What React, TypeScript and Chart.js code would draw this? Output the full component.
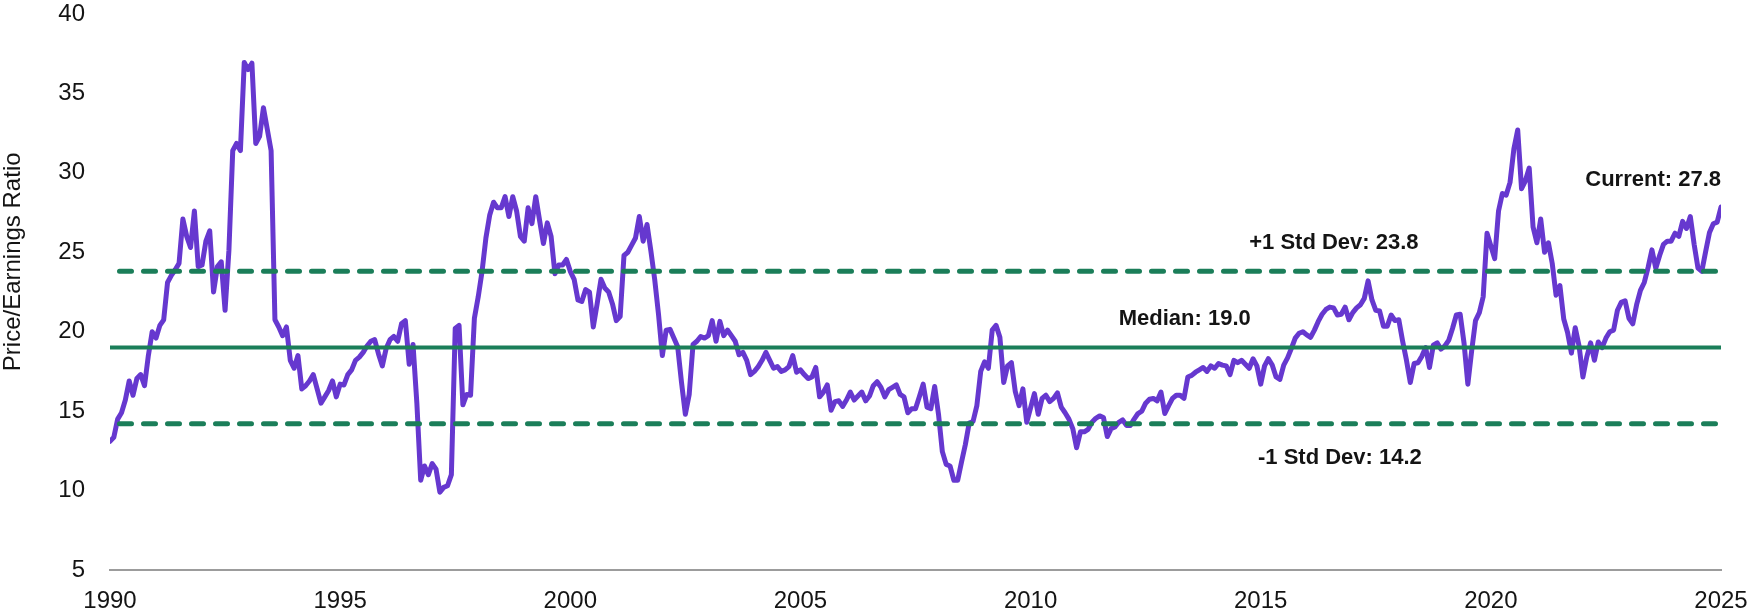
import React, { useEffect, useRef } from "react";
import Chart from "chart.js/auto";

// ---- Data (monthly P/E readings, Jan of start year onward) ----
const START_YEAR = 1990;
const END_YEAR = 2025;

const pe1990_1994 = [
  13.1, 13.35, 14.5, 14.9, 15.7, 16.9, 16.0, 17.05, 17.3, 16.6, 18.5, 20.0,
  19.6, 20.4, 20.75, 23.1, 23.55, 23.9, 24.3, 27.1, 26.0, 25.3, 27.6, 24.1,
  24.2, 25.7, 26.35, 22.5, 24.1, 24.4, 21.35, 25.1, 31.4, 31.85, 31.4, 36.95,
  36.5, 36.9, 31.85, 32.3, 34.1, 32.75, 31.4, 20.75, 20.3, 19.75, 20.3, 18.2,
  17.7, 18.5, 16.4, 16.6, 16.9, 17.3, 16.4, 15.5, 15.9, 16.3, 16.9, 15.9,
];
const pe1995_1999 = [
  16.7, 16.65, 17.3, 17.6, 18.2, 18.4, 18.7, 19.1, 19.4, 19.5, 18.6, 17.85,
  18.95, 19.5, 19.7, 19.4, 20.5, 20.7, 17.95, 19.2, 15.5, 10.65, 11.55, 11.0,
  11.7, 11.35, 9.9, 10.2, 10.3, 11.0, 20.2, 20.4, 15.4, 16.05, 16.0, 20.85,
  22.2, 23.8, 25.9, 27.35, 28.15, 27.8, 27.8, 28.5, 27.25, 28.5, 27.6, 26.0,
  25.7, 27.8, 26.8, 28.5, 27.0, 25.55, 26.85, 26.0, 23.65, 24.2, 24.2, 24.55,
];
const pe2000_2004 = [
  23.8, 23.3, 22.0, 21.9, 22.65, 22.5, 20.3, 21.75, 23.3, 22.75, 22.5, 21.75,
  20.7, 20.95, 24.8, 25.0, 25.45, 25.9, 27.25, 25.7, 26.75, 25.1, 23.3, 21.1,
  18.5, 20.1, 20.15, 19.6, 19.05, 16.8, 14.8, 16.05, 19.2, 19.4, 19.7, 19.6,
  19.75, 20.7, 19.4, 20.65, 19.75, 20.1, 19.75, 19.4, 18.55, 18.7, 18.2, 17.3,
  17.5, 17.8, 18.2, 18.7, 18.2, 17.7, 17.8, 17.5, 17.6, 17.8, 18.5, 17.45,
];
const pe2005_2009 = [
  17.6, 17.3, 17.05, 17.15, 17.75, 15.9, 16.2, 16.65, 15.05, 15.6, 15.65, 15.3,
  15.7, 16.2, 15.7, 15.95, 16.2, 15.65, 15.95, 16.6, 16.85, 16.5, 15.9, 16.35,
  16.5, 16.65, 16.05, 15.9, 14.9, 15.15, 15.15, 15.9, 16.7, 15.25, 15.15, 16.55,
  14.8, 12.45, 11.65, 11.55, 10.65, 10.65, 11.8, 12.9, 14.25, 14.35, 15.35, 17.5,
  18.1, 17.7, 20.1, 20.4, 19.65, 16.8, 17.85, 18.05, 16.25, 15.35, 16.4, 14.3,
];
const pe2010_2014 = [
  15.2, 16.1, 14.8, 15.8, 16.0, 15.6, 15.8, 16.15, 15.25, 14.9, 14.5, 13.9,
  12.7, 13.7, 13.7, 13.85, 14.3, 14.55, 14.7, 14.6, 13.4, 13.9, 14.0, 14.3,
  14.45, 14.1, 14.1, 14.5, 14.85, 15.0, 15.5, 15.75, 15.8, 15.65, 16.2, 14.85,
  15.35, 15.8, 16.0, 16.0, 15.8, 17.15, 17.25, 17.45, 17.6, 17.75, 17.5, 17.85,
  17.7, 18.0, 17.9, 17.85, 17.3, 18.2, 18.05, 18.2, 17.95, 17.7, 18.3, 17.85,
];
const pe2015_2019 = [
  16.7, 17.85, 18.3, 17.9, 17.15, 17.0, 17.9, 18.35, 18.95, 19.6, 19.9, 20.0,
  19.8, 19.65, 20.1, 20.65, 21.1, 21.4, 21.55, 21.5, 21.05, 21.1, 21.55, 20.75,
  21.2, 21.5, 21.7, 22.1, 23.2, 22.0, 21.35, 21.3, 20.35, 20.35, 21.05, 20.7,
  20.75, 19.4, 18.2, 16.8, 18.0, 18.05, 18.45, 19.0, 17.75, 19.15, 19.3, 18.9,
  19.1, 19.45, 20.2, 21.05, 21.1, 19.3, 16.7, 18.8, 20.7, 21.2, 22.2, 26.2,
];
const pe2020_2024 = [
  25.4, 24.6, 27.6, 28.7, 28.6, 29.4, 31.5, 32.7, 29.0, 29.5, 30.3, 26.6,
  25.6, 27.1, 25.0, 25.6, 24.3, 22.3, 22.9, 20.8, 19.95, 18.65, 20.25, 19.1,
  17.15, 18.4, 19.3, 18.2, 19.35, 19.0, 19.6, 20.0, 20.1, 21.35, 21.85, 21.95,
  20.85, 20.5, 21.7, 22.6, 23.1, 24.05, 25.15, 24.0, 24.8, 25.5, 25.7, 25.7,
  26.2, 26.0, 26.95, 26.5, 27.25, 25.5, 24.0, 23.8, 25.05, 26.25, 26.8, 26.9,
];
const pe2025 = [27.85];

const MEDIAN = 19.0;
const PLUS_ONE_SD = 23.8;
const MINUS_ONE_SD = 14.2;

const X_TICKS = [1990, 1995, 2000, 2005, 2010, 2015, 2020, 2025];
const Y_TICKS = [5, 10, 15, 20, 25, 30, 35, 40];
const Y_MIN = 5;
const Y_MAX = 40;
const Y_TITLE = "Price/Earnings Ratio";

const LABEL_TEXTS = ["Current: 27.8", "+1 Std Dev: 23.8", "Median: 19.0", "-1 Std Dev: 14.2"];
const LABEL_X = [2025.0, 2016.59, 2013.35, 2016.72];
const LABEL_Y = [29.55, 25.58, 20.8, 12.05];
const LABEL_ALIGN = ["right", "center", "center", "center"];
const Y_TITLE_CENTER_VALUE = 24.4;

const PURPLE = "#6638CF";
const GREEN = "#1B7E59";
const TEXT = "#141414";
const FONT = '"Liberation Sans", Arial, sans-serif';

const allValues = [
  ...pe1990_1994, ...pe1995_1999, ...pe2000_2004, ...pe2005_2009,
  ...pe2010_2014, ...pe2015_2019, ...pe2020_2024, ...pe2025,
];

const annotationPlugin = {
  id: "peAnnotations",
  afterDatasetsDraw(chart: any) {
    const { ctx, scales } = chart;
    const xs = scales.x;
    const ys = scales.y;
    ctx.save();
    ctx.fillStyle = TEXT;
    ctx.font = `bold 22px ${FONT}`;
    ctx.textBaseline = "middle";
    LABEL_TEXTS.forEach((t, i) => {
      ctx.textAlign = LABEL_ALIGN[i];
      ctx.fillText(t, xs.getPixelForValue(LABEL_X[i]), ys.getPixelForValue(LABEL_Y[i]));
    });
    ctx.restore();

    ctx.save();
    ctx.fillStyle = TEXT;
    ctx.font = `24px ${FONT}`;
    ctx.textAlign = "center";
    ctx.textBaseline = "middle";
    ctx.translate(13, ys.getPixelForValue(Y_TITLE_CENTER_VALUE));
    ctx.rotate(-Math.PI / 2);
    ctx.fillText(Y_TITLE, 0, 0);
    ctx.restore();
  },
};

function refLine(value: number) {
  return [
    { x: START_YEAR, y: value },
    { x: END_YEAR, y: value },
  ];
}

export default function App() {
  const canvasRef = useRef<HTMLCanvasElement | null>(null);

  useEffect(() => {
    const canvas = canvasRef.current;
    if (!canvas) return;
    const points = allValues.map((v, i) => ({ x: START_YEAR + i / 12, y: v }));

    const chart = new Chart(canvas, {
      type: "line",
      data: {
        datasets: [
          {
            label: "+1 Std Dev",
            data: refLine(PLUS_ONE_SD),
            borderColor: GREEN,
            borderWidth: 5,
            borderDash: [12, 12],
            borderDashOffset: 14.5,
            borderCapStyle: "round",
            pointRadius: 0,
          },
          {
            label: "-1 Std Dev",
            data: refLine(MINUS_ONE_SD),
            borderColor: GREEN,
            borderWidth: 5,
            borderDash: [12, 12],
            borderDashOffset: 14.5,
            borderCapStyle: "round",
            pointRadius: 0,
          },
          {
            label: "Median",
            data: refLine(MEDIAN),
            borderColor: GREEN,
            borderWidth: 4,
            pointRadius: 0,
          },
          {
            label: "P/E",
            data: points,
            borderColor: PURPLE,
            borderWidth: 5,
            borderJoinStyle: "round",
            borderCapStyle: "round",
            pointRadius: 0,
            tension: 0,
          },
        ],
      },
      options: {
        responsive: false,
        animation: false,
        devicePixelRatio: 1,
        layout: { padding: { top: 14, right: 29, bottom: 0, left: 0 } },
        plugins: {
          legend: { display: false },
          tooltip: { enabled: false },
          title: { display: false },
        },
        scales: {
          x: {
            type: "linear",
            min: START_YEAR,
            max: END_YEAR,
            afterBuildTicks: (scale: any) => {
              scale.ticks = X_TICKS.map((v) => ({ value: v }));
            },
            afterFit: (scale: any) => {
              scale.height = 46;
              scale.paddingLeft = 0;
              scale.paddingRight = 0;
            },
            grid: { display: false, drawTicks: false },
            border: { display: true, color: "#9C9C9C", width: 2 },
            ticks: {
              padding: 17,
              maxRotation: 0,
              autoSkip: false,
              color: TEXT,
              font: { family: FONT, size: 24 },
              callback: (v: any) => String(v),
            },
          },
          y: {
            type: "linear",
            min: Y_MIN,
            max: Y_MAX,
            afterBuildTicks: (scale: any) => {
              scale.ticks = Y_TICKS.map((v) => ({ value: v }));
            },
            afterFit: (scale: any) => {
              scale.width = 110;
              scale.paddingTop = 0;
              scale.paddingBottom = 0;
            },
            grid: { display: false, drawTicks: false },
            border: { display: false },
            ticks: {
              padding: 25,
              color: TEXT,
              font: { family: FONT, size: 24 },
              callback: (v: any) => String(v),
            },
          },
        },
      },
      plugins: [annotationPlugin],
    } as any);

    return () => chart.destroy();
  }, []);

  return (
    <div style={{ position: "fixed", left: 0, top: 0, width: 1750, height: 616, background: "#fff" }}>
      <canvas ref={canvasRef} width={1750} height={616} style={{ display: "block" }} />
    </div>
  );
}
